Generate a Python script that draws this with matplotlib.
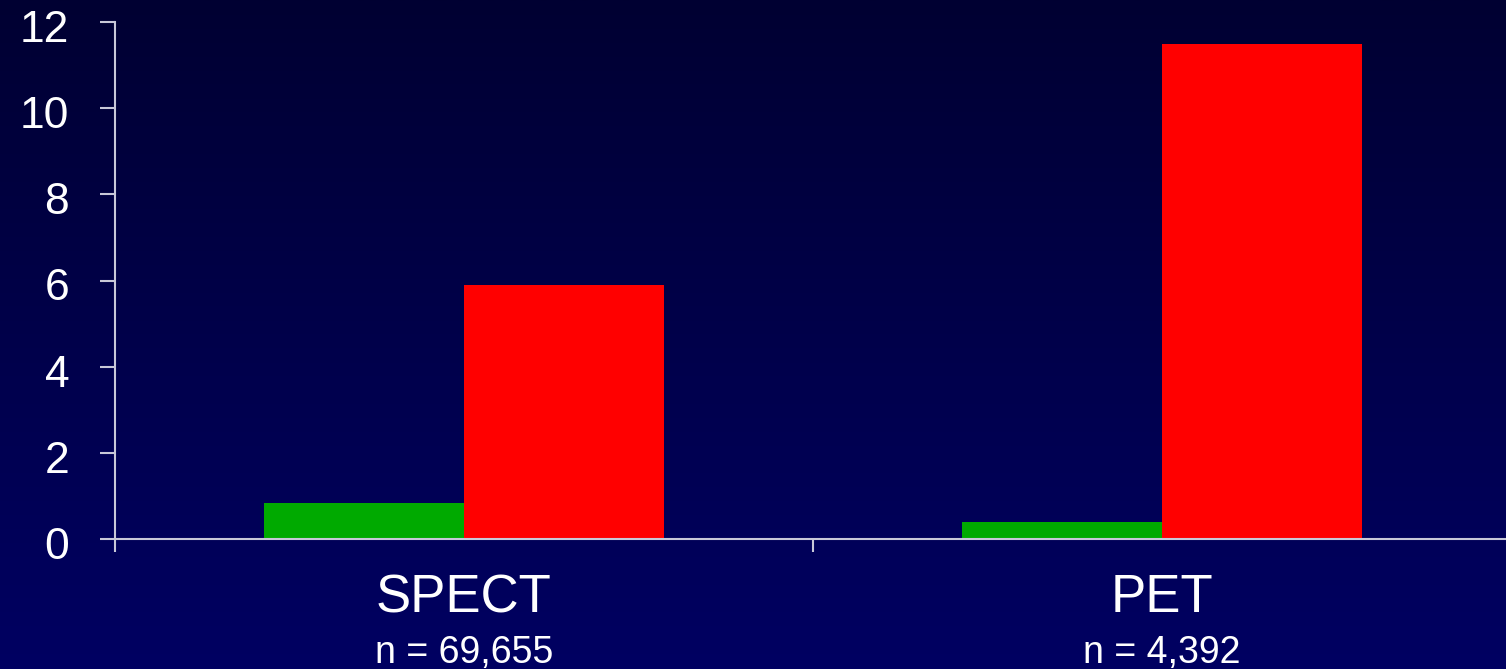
import matplotlib
matplotlib.use("Agg")
import matplotlib.pyplot as plt
import numpy as np
from matplotlib.colors import LinearSegmentedColormap
from matplotlib.transforms import ScaledTranslation

plt.rcParams['font.family'] = ['Liberation Sans', 'DejaVu Sans']

categories = ['SPECT', 'PET']
sample_sizes = ['n = 69,655', 'n = 4,392']
green_values = [0.84, 0.39]
red_values = [5.9, 11.49]
y_ticks = [0, 2, 4, 6, 8, 10, 12]

fig = plt.figure(figsize=(15.06, 6.69), dpi=100)

# dark navy gradient behind everything
bg = fig.add_axes([0, 0, 1, 1], zorder=-1)
cmap = LinearSegmentedColormap.from_list('navy', ['#000032', '#000062'])
grad = np.linspace(0, 1, 256).reshape(-1, 1)
bg.imshow(grad, aspect='auto', cmap=cmap, extent=[0, 1, 0, 1], origin='upper')
bg.axis('off')

ax = fig.add_axes([115 / 1506, 130 / 669, 1396 / 1506, 517 / 669])
ax.set_facecolor('none')

x = np.arange(len(categories)) + 0.5
w = 200 / 698
ax.bar(x - w / 2, green_values, w, color='#00aa00', zorder=2)
ax.bar(x + w / 2, red_values, w, color='#ff0000', zorder=2)

ax.set_xlim(0, 2)
ax.set_ylim(0, 12)
ax.set_yticks(y_ticks)
ax.set_xticks([0, 1, 2])
ax.set_xticklabels([])

axis_color = '#c8c8d8'
for side in ['top', 'right']:
    ax.spines[side].set_visible(False)
for side in ['left', 'bottom']:
    ax.spines[side].set_color(axis_color)
    ax.spines[side].set_linewidth(1.5)
    ax.spines[side].set_zorder(3)

ax.tick_params(axis='y', colors=axis_color, length=11, width=1.5, pad=22,
               labelsize=32, labelcolor='white')
ax.tick_params(axis='x', colors=axis_color, length=9, width=1.5)

# nudge the y tick labels down a little
shift = ScaledTranslation(0, -0.04, fig.dpi_scale_trans)
for lbl in ax.get_yticklabels():
    lbl.set_transform(lbl.get_transform() + shift)

for xi, name, n in zip(x, categories, sample_sizes):
    ax.text(xi, -1.38, name, ha='center', va='center', fontsize=38,
            color='white', clip_on=False)
    ax.text(xi, -2.65, n, ha='center', va='center', fontsize=27,
            color='white', clip_on=False)

fig.savefig('out.png', dpi=100, facecolor=fig.get_facecolor())
